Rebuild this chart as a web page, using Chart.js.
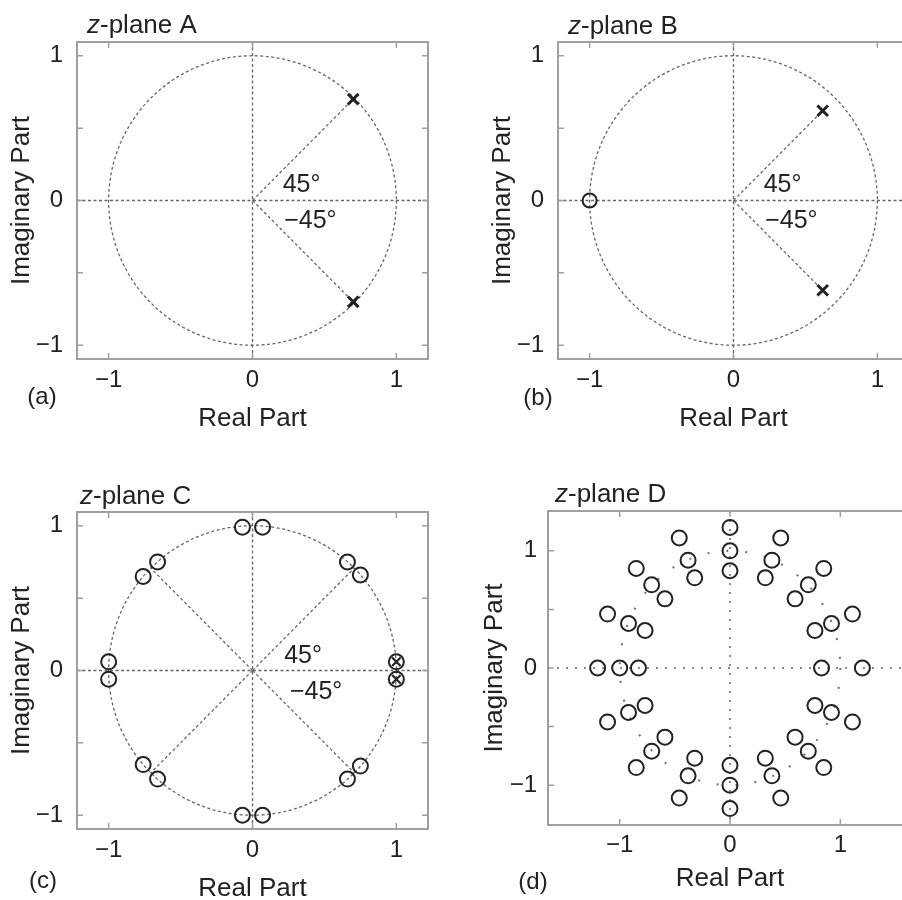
<!DOCTYPE html>
<html>
<head>
<meta charset="utf-8">
<script src="https://cdn.jsdelivr.net/npm/chart.js@4.4.1/dist/chart.umd.min.js"></script>
<style>
  html, body { margin: 0; padding: 0; background: #fff; }
  #page { position: relative; width: 902px; height: 900px; overflow: hidden; background: #fff; }
  #page canvas { position: absolute; }
</style>
</head>
<body>
<div id="page">
  <canvas id="plotA" width="450" height="440" style="left:0;top:0"></canvas>
  <canvas id="plotB" width="450" height="440" style="left:481px;top:0"></canvas>
  <canvas id="plotC" width="450" height="440" style="left:0;top:470px"></canvas>
  <canvas id="plotD" width="480" height="440" style="left:450px;top:470px"></canvas>
</div>
<script>
// pole / zero locations, as [real, imaginary]
const polesA = [[0.70, 0.70], [0.70, -0.70]];

const polesB = [[0.62, 0.62], [0.62, -0.62]];
const zerosB = [[-1.0, 0.0]];

const zerosC = [
  [-0.07, 0.99], [0.07, 0.99], [0.66, 0.75], [0.75, 0.66],
  [-0.66, 0.75], [-0.76, 0.65], [-1.0, 0.06], [-1.0, -0.06],
  [-0.76, -0.65], [-0.66, -0.75], [0.66, -0.75], [0.75, -0.66],
  [-0.07, -1.0], [0.07, -1.0], [1.0, 0.06], [1.0, -0.06]
];
const polesC = [[1.0, 0.06], [1.0, -0.06]];
const raysC = [[0.71, 0.71], [-0.71, 0.71], [-0.71, -0.71], [0.71, -0.71]];

const zerosD_outer = [
  [1.20, 0.00], [1.11, 0.46], [0.85, 0.85], [0.46, 1.11],
  [0.00, 1.20], [-0.46, 1.11], [-0.85, 0.85], [-1.11, 0.46],
  [-1.20, 0.00], [-1.11, -0.46], [-0.85, -0.85], [-0.46, -1.11],
  [0.00, -1.20], [0.46, -1.11], [0.85, -0.85], [1.11, -0.46]
];
const zerosD_unit = [
  [0.92, 0.38], [0.71, 0.71], [0.38, 0.92], [0.00, 1.00],
  [-0.38, 0.92], [-0.71, 0.71], [-0.92, 0.38], [-1.00, 0.00],
  [-0.92, -0.38], [-0.71, -0.71], [-0.38, -0.92], [0.00, -1.00],
  [0.38, -0.92], [0.71, -0.71], [0.92, -0.38]
];
const zerosD_inner = [
  [0.83, 0.00], [0.77, 0.32], [0.59, 0.59], [0.32, 0.77],
  [0.00, 0.83], [-0.32, 0.77], [-0.59, 0.59], [-0.77, 0.32],
  [-0.83, 0.00], [-0.77, -0.32], [-0.59, -0.59], [-0.32, -0.77],
  [0.00, -0.83], [0.32, -0.77], [0.59, -0.59], [0.77, -0.32]
];

// axis limits and labels
const rangeX_ABC = [-1.22, 1.22];
const rangeY_ABC = [-1.095, 1.095];
const rangeX_D = [-1.65, 1.65];
const rangeY_D = [-1.34, 1.34];
const tickLabels = { '-1': '\u22121', '0': '0', '1': '1' };
const angleText = ['45\u00b0', '\u221245\u00b0'];

const FONT = '"Liberation Sans", Arial, Helvetica, sans-serif';
const INK = '#222';
const GUIDE = '#666';
const FRAME = '#a0a0a0';

function pts(list) {
  return list.map(p => ({ x: p[0], y: p[1] }));
}

function zeroSet(list, r) {
  return {
    data: pts(list), showLine: false, pointStyle: 'circle', pointRadius: r,
    borderColor: INK, backgroundColor: 'rgba(0,0,0,0)', pointBorderWidth: 2
  };
}

function poleSet(list, r, w) {
  return {
    data: pts(list), showLine: false, pointStyle: 'crossRot', pointRadius: r,
    borderColor: INK, backgroundColor: INK, pointBorderWidth: w
  };
}

function raySets(list) {
  return list.map(p => ({
    data: [{ x: 0, y: 0 }, { x: p[0], y: p[1] }], showLine: true, pointRadius: 0,
    borderColor: GUIDE, borderWidth: 1.3, borderDash: [3, 2.5]
  }));
}

// dashed unit circle + axes behind the marks, frame, inward ticks and text on top
const zplanePlugin = {
  id: 'zplane',
  beforeDatasetsDraw(chart, args, o) {
    const { ctx, chartArea: a, scales: { x, y } } = chart;
    const x0 = x.getPixelForValue(0), y0 = y.getPixelForValue(0);
    const rx = x.getPixelForValue(1) - x0, ry = y0 - y.getPixelForValue(1);
    ctx.save();
    ctx.beginPath();
    ctx.rect(a.left, a.top, a.right - a.left, a.bottom - a.top);
    ctx.clip();
    ctx.strokeStyle = o.axisColor;
    ctx.lineWidth = o.axisWidth;
    ctx.setLineDash(o.axisDash);
    ctx.beginPath();
    ctx.moveTo(a.left, y0); ctx.lineTo(a.right, y0);
    ctx.moveTo(x0, a.top); ctx.lineTo(x0, a.bottom);
    ctx.stroke();
    ctx.strokeStyle = o.circleColor;
    ctx.lineWidth = o.circleWidth;
    ctx.setLineDash(o.circleDash);
    ctx.beginPath();
    ctx.ellipse(x0, y0, rx, ry, 0, 0, Math.PI * 2);
    ctx.stroke();
    ctx.restore();
  },
  afterDraw(chart, args, o) {
    const { ctx, chartArea: a, scales: { x, y } } = chart;
    ctx.save();
    // frame
    ctx.strokeStyle = FRAME;
    ctx.lineWidth = 2;
    ctx.strokeRect(a.left, a.top, a.right - a.left, a.bottom - a.top);
    // inward ticks on all four sides
    ctx.lineWidth = 1.5;
    ctx.beginPath();
    x.ticks.forEach(t => {
      const px = x.getPixelForValue(t.value);
      ctx.moveTo(px, a.bottom); ctx.lineTo(px, a.bottom - 6);
      ctx.moveTo(px, a.top); ctx.lineTo(px, a.top + 6);
    });
    y.ticks.forEach(t => {
      const py = y.getPixelForValue(t.value);
      ctx.moveTo(a.left, py); ctx.lineTo(a.left + 6, py);
      ctx.moveTo(a.right, py); ctx.lineTo(a.right - 6, py);
    });
    ctx.stroke();

    ctx.fillStyle = INK;
    ctx.textBaseline = 'middle';
    ctx.textAlign = 'left';
    // title: italic z, then the rest
    ctx.font = 'italic 26px ' + FONT;
    ctx.fillText('z', o.titleX, o.titleY);
    const zw = ctx.measureText('z').width;
    ctx.font = '26px ' + FONT;
    ctx.fillText('-plane ' + o.letter, o.titleX + zw, o.titleY);
    // panel tag
    ctx.font = '24px ' + FONT;
    ctx.textAlign = 'center';
    ctx.fillText(o.tag, o.tagX, o.tagY);
    // angle annotations
    ctx.font = '25px ' + FONT;
    ctx.textAlign = 'left';
    ctx.textBaseline = 'alphabetic';
    (o.angles || []).forEach(t => {
      ctx.fillText(t.text, x.getPixelForValue(t.at[0]), y.getPixelForValue(t.at[1]));
    });
    ctx.restore();
  }
};

function scalesFor(xr, yr, lay) {
  const tickFont = { family: FONT, size: 24 };
  const titleFont = { family: FONT, size: 26 };
  return {
    x: {
      type: 'linear', min: xr[0], max: xr[1],
      ticks: {
        stepSize: 1, includeBounds: false, autoSkip: false, maxRotation: 0,
        padding: lay.xTickPad, color: INK, font: tickFont,
        callback: v => tickLabels[v] ?? ''
      },
      grid: { display: false, drawTicks: false },
      border: { display: false },
      title: { display: true, text: 'Real Part', color: INK, font: titleFont, padding: lay.xTitlePad },
      afterFit: s => { s.height = lay.xAxisH; }
    },
    y: {
      type: 'linear', min: yr[0], max: yr[1],
      ticks: {
        stepSize: 0.5, includeBounds: false, autoSkip: false,
        padding: lay.yTickPad, color: INK, font: tickFont,
        callback: v => tickLabels[v] ?? ''
      },
      grid: { display: false, drawTicks: false },
      border: { display: false },
      title: { display: true, text: 'Imaginary Part', color: INK, font: titleFont, padding: lay.yTitlePad },
      afterFit: s => { s.width = lay.yAxisW; }
    }
  };
}

const solidGuides = {
  axisColor: GUIDE, axisWidth: 1.3, axisDash: [3, 2.5],
  circleColor: GUIDE, circleWidth: 1.3, circleDash: [3, 2.5]
};
const dottedGuides = {
  axisColor: '#8a8a8a', axisWidth: 2, axisDash: [2, 7],
  circleColor: '#6f6f6f', circleWidth: 2, circleDash: [2, 17]
};

const layABC = { xAxisH: 81, yAxisW: 77, xTickPad: 7, yTickPad: 14, xTitlePad: 6, yTitlePad: 6 };
const layD = { xAxisH: 85, yAxisW: 98, xTickPad: 6, yTickPad: 11, xTitlePad: 16, yTitlePad: 29 };

function makeChart(id, datasets, xr, yr, lay, pad, extra) {
  new Chart(document.getElementById(id), {
    type: 'scatter',
    data: { datasets: datasets },
    options: {
      responsive: false,
      animation: false,
      events: [],
      layout: { padding: { top: pad.top, right: pad.right, left: 0, bottom: 0 } },
      scales: scalesFor(xr, yr, lay),
      plugins: {
        legend: { display: false },
        tooltip: { enabled: false },
        zplane: extra
      }
    },
    plugins: [zplanePlugin]
  });
}

const anglesAB = [
  { text: angleText[0], at: [0.21, 0.06] },
  { text: angleText[1], at: [0.22, -0.19] }
];

makeChart('plotA',
  [poleSet(polesA, 7.5, 3)].concat(raySets(polesA)),
  rangeX_ABC, rangeY_ABC, layABC, { top: 42, right: 22 },
  Object.assign({ letter: 'A', titleX: 87, titleY: 26, tag: '(a)', tagX: 42, tagY: 397, angles: anglesAB }, solidGuides));

makeChart('plotB',
  [poleSet(polesB, 7.5, 3), zeroSet(zerosB, 7)].concat(raySets(polesB)),
  rangeX_ABC, rangeY_ABC, layABC, { top: 42, right: 22 },
  Object.assign({ letter: 'B', titleX: 87, titleY: 27, tag: '(b)', tagX: 57, tagY: 398, angles: anglesAB }, solidGuides));

makeChart('plotC',
  [poleSet(polesC, 6, 2.2), zeroSet(zerosC, 7.5)].concat(raySets(raysC)),
  rangeX_ABC, rangeY_ABC, layABC, { top: 42, right: 22 },
  Object.assign({ letter: 'C', titleX: 80, titleY: 27, tag: '(c)', tagX: 43, tagY: 411,
    angles: [{ text: angleText[0], at: [0.22, 0.055] }, { text: angleText[1], at: [0.26, -0.2] }] }, solidGuides));

makeChart('plotD',
  [zeroSet(zerosD_outer, 7.5), zeroSet(zerosD_unit, 7.5), zeroSet(zerosD_inner, 7.5)],
  rangeX_D, rangeY_D, layD, { top: 41, right: 18 },
  Object.assign({ letter: 'D', titleX: 105, titleY: 25, tag: '(d)', tagX: 83, tagY: 412, angles: [] }, dottedGuides));
</script>
</body>
</html>
